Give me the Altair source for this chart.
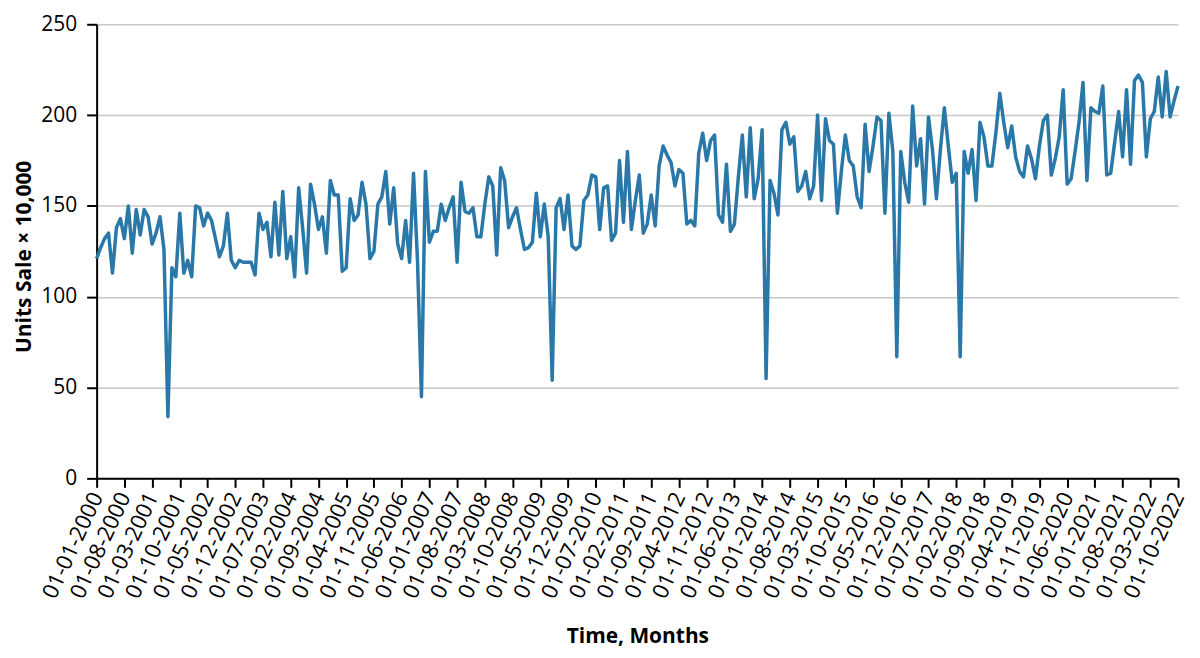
import json

import altair as alt
import pandas as pd

# monthly units sold (x 10,000), Jan 2000 .. Oct 2022
units_sale = [
    121, 127, 132, 135, 113, 138, 143, 132, 150, 124, 148, 134,
    148, 144, 129, 135, 144, 126, 34, 116, 111, 146, 113, 120,
    111, 150, 149, 139, 146, 142, 132, 122, 128, 146, 120, 116,
    120, 119, 119, 119, 112, 146, 137, 141, 122, 152, 123, 158,
    121, 133, 111, 160, 138, 113, 162, 151, 137, 144, 124, 164,
    156, 156, 114, 116, 154, 142, 145, 163, 151, 121, 125, 151,
    155, 169, 140, 160, 129, 121, 142, 119, 168, 120, 45, 169,
    130, 136, 136, 151, 142, 149, 155, 119, 163, 147, 146, 149,
    133, 133, 151, 166, 161, 123, 171, 164, 138, 144, 149, 137,
    126, 127, 130, 157, 133, 151, 133, 54, 149, 154, 137, 156,
    128, 126, 128, 153, 156, 167, 166, 137, 160, 161, 131, 135,
    175, 141, 180, 137, 153, 167, 135, 140, 156, 139, 172, 183,
    178, 174, 161, 170, 168, 140, 142, 139, 179, 190, 175, 186,
    189, 145, 141, 173, 136, 140, 166, 189, 155, 193, 154, 165,
    192, 55, 164, 157, 145, 192, 196, 184, 188, 158, 161, 169,
    154, 161, 200, 153, 198, 186, 184, 146, 169, 189, 175, 172,
    155, 149, 195, 169, 183, 199, 197, 146, 201, 180, 67, 180,
    163, 152, 205, 172, 187, 151, 199, 181, 154, 181, 204, 183,
    163, 168, 67, 180, 168, 181, 153, 196, 188, 172, 172, 190,
    212, 196, 182, 194, 177, 169, 166, 183, 176, 165, 183, 197,
    200, 167, 176, 188, 214, 162, 165, 180, 196, 218, 164, 204,
    202, 201, 216, 167, 168, 185, 202, 177, 214, 173, 219, 222,
    218, 177, 198, 202, 221, 199, 224, 199, 208, 216,
]

month_index = list(range(len(units_sale)))
tick_months = list(range(0, len(units_sale), 7))
tick_labels = [
    d.strftime("%d-%m-%Y")
    for d in pd.date_range("2000-01-01", periods=len(units_sale), freq="MS")[tick_months]
]
y_ticks = [0, 50, 100, 150, 200, 250]

df = pd.DataFrame({"month": month_index, "units": units_sale})

FONT = "Open Sans"

chart = (
    alt.Chart(df)
    .mark_line(color="#2a78a8", strokeWidth=3.5, strokeJoin="round")
    .encode(
        x=alt.X(
            "month:Q",
            scale=alt.Scale(domain=[0, len(units_sale) - 1], nice=False, zero=False),
            axis=alt.Axis(
                values=tick_months,
                labelExpr=json.dumps(tick_labels) + "[round(datum.value / 7)]",
                labelAngle=-65,
                labelFontSize=22,
                labelPadding=6,
                labelOverlap=False,
                labelFlush=False,
                tickSize=9,
                grid=False,
                title="Time, Months",
                titleFontSize=21,
                titleFontWeight="bold",
                titleBaseline="middle",
                titleY=159,
            ),
        ),
        y=alt.Y(
            "units:Q",
            scale=alt.Scale(domain=[0, 250], nice=False),
            axis=alt.Axis(
                values=y_ticks,
                labelFontSize=21,
                labelPadding=10,
                tickSize=10,
                grid=True,
                title="Units Sale × 10,000",
                titleFontSize=21,
                titleFontWeight="bold",
                titleBaseline="middle",
                titleX=-72,
                titleY=233,
            ),
        ),
    )
    .properties(
        width=1086,
        height=456,
        autosize=alt.AutoSizeParams(type="none"),
        padding={"left": 89, "top": 15, "right": 14, "bottom": 170},
    )
    .configure_axis(
        labelFont=FONT,
        titleFont=FONT,
        labelColor="black",
        titleColor="black",
        domainColor="black",
        domainWidth=2,
        tickColor="black",
        tickWidth=2,
        gridColor="#c8c8c8",
        gridWidth=1.5,
    )
    .configure_view(stroke=None)
)

chart.save("out.html", embed_options={"renderer": "svg", "actions": False})
